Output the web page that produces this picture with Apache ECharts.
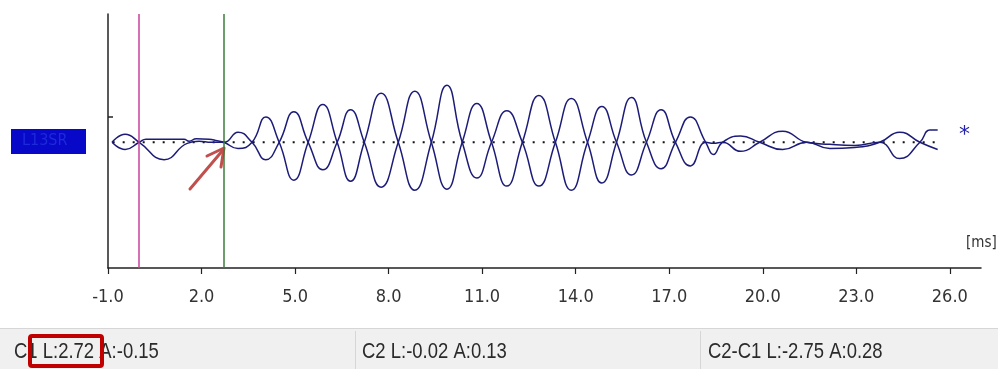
<!DOCTYPE html>
<html>
<head>
<meta charset="utf-8">
<script src="https://cdn.jsdelivr.net/npm/echarts@6/dist/echarts.min.js"></script>
<style>
html,body{margin:0;padding:0;background:#fff;}
#chart{width:998px;height:369px;}
</style>
</head>
<body>
<div id="chart"></div>
<script>
// ---- data ----
const xTickValues = [-1, 2, 5, 8, 11, 14, 17, 20, 23, 26];
const yTickValues = [1];
const cursorC1 = 2.72;   // green cursor
const cursorC2 = -0.02;  // magenta cursor
const channelName = 'L13SR';
const statusTexts = ['C1 L:2.72 A:-0.15', 'C2 L:-0.02 A:0.13', 'C2-C1 L:-2.75 A:0.28'];

// trace A: [time ms, amplitude]
const traceA = [
  [-0.87,0],[-0.45,0.31],[0.00,0],[0.80,-0.67],[1.54,-0.04],[1.92,0.04],[2.31,0],[2.72,0],
  [3.17,0.39],[3.62,0],[4.06,-0.67],[4.49,0],[4.96,1.18],[5.42,0],[5.89,-1.06],[6.35,0],
  [6.78,1.26],[7.22,0],[7.76,-1.73],[8.31,0],[8.84,1.97],[9.37,0],[9.87,-1.81],[10.36,0],
  [10.83,1.50],[11.30,0],[11.79,-1.69],[12.29,0],[12.82,1.81],[13.35,0],[13.86,-1.85],[14.38,0],
  [14.84,1.38],[15.31,0],[15.79,-1.26],[16.27,0],[16.74,1.26],[17.20,0],[17.68,-0.91],[18.17,0],
  [18.42,-0.04],[18.71,0],[19.29,-0.35],[19.90,0],[20.64,0.43],[21.41,0],[22.15,-0.08],[22.95,-0.12],
  [23.75,0],[24.39,-0.63],[25.04,0],[25.36,0.47],[25.61,0.47]
];
// trace B: [time ms, amplitude]
const traceB = [
  [-0.87,0],[-0.45,-0.28],[0.00,0],[0.22,0.12],[1.44,0.12],[1.60,0.04],[1.83,0.14],[2.24,0.12],
  [2.50,0.06],[2.72,0],[3.17,-0.24],[3.62,0],[4.06,0.98],[4.49,0],[4.96,-1.46],[5.42,0],
  [5.89,1.46],[6.35,0],[6.78,-1.50],[7.22,0],[7.76,1.89],[8.31,0],[8.84,-1.85],[9.37,0],
  [9.87,2.20],[10.36,0],[10.83,-1.38],[11.30,0],[11.79,1.22],[12.29,0],[12.82,-1.69],[13.35,0],
  [13.86,1.69],[14.38,0],[14.84,-1.57],[15.31,0],[15.79,1.73],[16.27,0],[16.74,-1.02],[17.20,0],
  [17.68,0.98],[18.17,0],[18.42,-0.47],[18.71,0],[19.29,0.24],[19.90,0],[20.64,-0.28],[21.41,0],
  [22.15,-0.24],[22.95,-0.20],[23.75,0],[24.39,0.39],[25.04,0],[25.61,-0.28]
];
const baseline = [[-0.85,0],[25.62,0]];

// ---- chart ----
const NARROW = "'Liberation Sans Narrow','DejaVu Sans Condensed','Roboto Condensed',sans-serif";
const chart = echarts.init(document.getElementById('chart'), null, {renderer:'canvas'});
const traceColor = '#1c1c78';

function statusText(x, s) {
  return {type: 'text', x: x, y: 341, scaleX: 0.84,
          style: {text: s, fill: '#2a2a2a', fontSize: 22, fontFamily: "'Liberation Sans','DejaVu Sans',sans-serif"}};
}

chart.setOption({
  animation: false,
  backgroundColor: '#ffffff',
  grid: {left: 108, right: 17, top: 14, bottom: 101},
  xAxis: {
    type: 'value', min: -1, max: 27,
    axisLine: {onZero: false, lineStyle: {color: '#222', width: 1.5}},
    axisTick: {customValues: xTickValues, length: 6, lineStyle: {color: '#222', width: 1.2}},
    axisLabel: {customValues: xTickValues, formatter: v => v.toFixed(1), fontSize: 18,
                fontFamily: NARROW, color: '#333', margin: 20},
    splitLine: {show: false}
  },
  yAxis: {
    type: 'value', min: -4.85, max: 4.95,
    axisLine: {onZero: false, lineStyle: {color: '#222', width: 1.5}},
    axisTick: {customValues: yTickValues, inside: true, length: 5, lineStyle: {color: '#222', width: 1.5}},
    axisLabel: {show: false},
    splitLine: {show: false}
  },
  series: [
    {
      type: 'line', data: baseline, showSymbol: false, silent: true,
      lineStyle: {color: '#111', width: 2, type: [2, 8]},
      markLine: {
        silent: true, symbol: ['none', 'none'], label: {show: false},
        data: [
          {xAxis: cursorC2, lineStyle: {color: '#c8409c', width: 1.5, type: 'solid'}},
          {xAxis: cursorC1, lineStyle: {color: '#3d7d3d', width: 1.5, type: 'solid'}}
        ]
      }
    },
    {type: 'line', data: traceA, showSymbol: false, smooth: 0.5,
     lineStyle: {color: traceColor, width: 1.5}},
    {type: 'line', data: traceB, showSymbol: false, smooth: 0.5,
     lineStyle: {color: traceColor, width: 1.5}}
  ],
  graphic: [
    // channel label box
    {type: 'rect', left: 11, top: 129, shape: {width: 75, height: 25}, style: {fill: '#0808c8'}},
    {type: 'text', left: 22, top: 133, style: {text: channelName, fill: '#1c2ad8', fontSize: 16, fontFamily: NARROW}},
    // asterisk
    {type: 'text', left: 959, top: 124, style: {text: '*', fill: '#2424a8', fontSize: 22, fontFamily: 'DejaVu Sans'}},
    // unit
    {type: 'text', left: 966, top: 236, style: {text: '[ms]', fill: '#333', fontSize: 15, fontFamily: NARROW}},
    // red arrow
    {type: 'polyline', shape: {points: [[190, 189], [223, 150]]}, style: {stroke: '#c0504d', lineWidth: 3, lineCap: 'round'}},
    {type: 'polyline', shape: {points: [[207, 156], [224, 148], [221, 167]]}, style: {stroke: '#c0504d', lineWidth: 3, fill: null, lineCap: 'round', lineJoin: 'round'}},
    // status bar
    {type: 'rect', left: 0, top: 328, shape: {width: 998, height: 41}, style: {fill: '#f0f0f0'}, z: -1},
    {type: 'line', shape: {x1: 0, y1: 328.5, x2: 998, y2: 328.5}, style: {stroke: '#d6d6d6', lineWidth: 1}},
    {type: 'line', shape: {x1: 355.5, y1: 331, x2: 355.5, y2: 369}, style: {stroke: '#d6d6d6', lineWidth: 1}},
    {type: 'line', shape: {x1: 700.5, y1: 331, x2: 700.5, y2: 369}, style: {stroke: '#d6d6d6', lineWidth: 1}},
    statusText(14, statusTexts[0]),
    statusText(362, statusTexts[1]),
    statusText(708, statusTexts[2]),
    {type: 'rect', shape: {x: 30, y: 336, width: 72, height: 30, r: 2}, style: {fill: null, stroke: '#c00000', lineWidth: 4}}
  ]
});
</script>
</body>
</html>
